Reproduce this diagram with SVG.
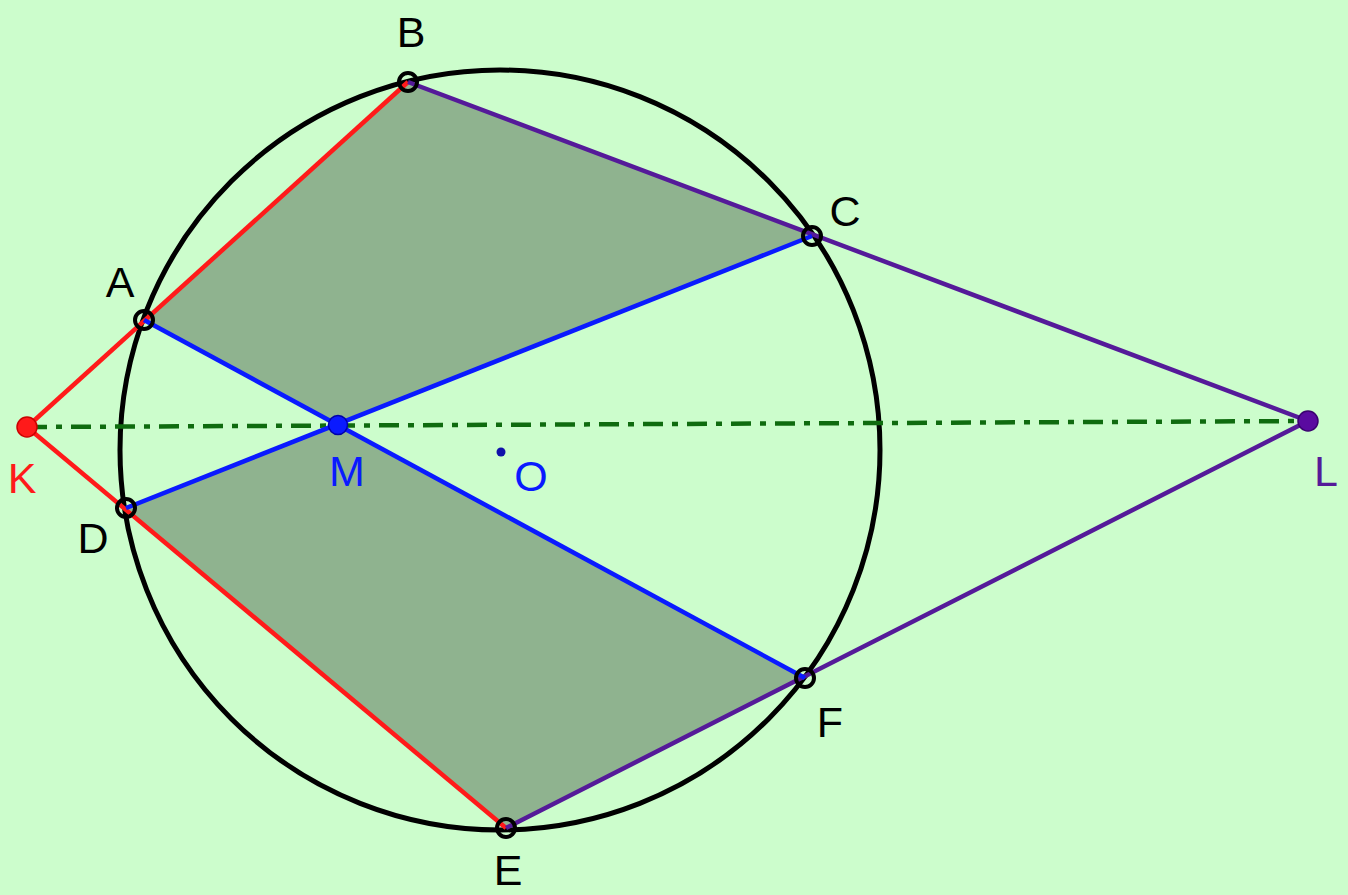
<svg xmlns="http://www.w3.org/2000/svg" width="1348" height="895" viewBox="0 0 1348 895">
<style>
.lbl{font-family:"Liberation Sans",Arial,sans-serif;font-size:43px;text-anchor:middle}
.red{stroke:#ff1a1a;stroke-width:4.5;fill:none}
.pur{stroke:#551a99;stroke-width:4.5;fill:none}
.blu{stroke:#0a1aff;stroke-width:4.5;fill:none}
.pt{fill:none;stroke:#000;stroke-width:4}
</style>
<rect width="1348" height="895" fill="#ccfdcc"/>
<g id="shading">
<polygon points="144,320 408,82 812,236 338,425" fill="#8fb38f"/>
<polygon points="126,508 338,425 805,678 506,828" fill="#8fb38f"/>
</g>
<g id="circle"><circle cx="500" cy="450" r="380" fill="none" stroke="#000" stroke-width="5"/></g>
<g id="connectors">
<line x1="27" y1="427" x2="1308" y2="421" stroke="#0f6b0f" stroke-width="4.5" stroke-dasharray="20,9,6,9"/>
<polyline class="red" points="27,427 408,82"/>
<polyline class="red" points="27,427 506,828"/>
<polyline class="pur" points="408,82 1308,421 506,828"/>
<line class="blu" x1="144" y1="320" x2="805" y2="678"/>
<line class="blu" x1="126" y1="508" x2="812" y2="236"/>
</g>
<g id="A"><circle class="pt" cx="144" cy="320" r="9"/><text class="lbl" x="120" y="297">A</text></g>
<g id="B"><circle class="pt" cx="408" cy="82" r="9"/><text class="lbl" x="411" y="47">B</text></g>
<g id="C"><circle class="pt" cx="812" cy="236" r="9"/><text class="lbl" x="845" y="226">C</text></g>
<g id="D"><circle class="pt" cx="126" cy="508" r="9"/><text class="lbl" x="93" y="553">D</text></g>
<g id="E"><circle class="pt" cx="506" cy="828" r="9"/><text class="lbl" x="508" y="885">E</text></g>
<g id="F"><circle class="pt" cx="805" cy="678" r="9"/><text class="lbl" x="830" y="737">F</text></g>
<g id="K"><circle cx="27" cy="427" r="10" fill="#ff1a1a" stroke="#cc0000" stroke-width="1.5"/><text class="lbl" x="22" y="493" fill="#ff1a1a">K</text></g>
<g id="M"><circle cx="338" cy="425" r="9.5" fill="#0a1aff" stroke="#0000aa" stroke-width="1.5"/><text class="lbl" x="347" y="486" fill="#0a1aff">M</text></g>
<g id="O"><circle cx="501" cy="452" r="4.5" fill="#1010aa"/><text class="lbl" x="531" y="491" fill="#0a1aff">O</text></g>
<g id="L"><circle cx="1308" cy="421" r="10" fill="#5a0aa0" stroke="#3a0070" stroke-width="1.5"/><text class="lbl" x="1326" y="486" fill="#551a99">L</text></g>
</svg>
